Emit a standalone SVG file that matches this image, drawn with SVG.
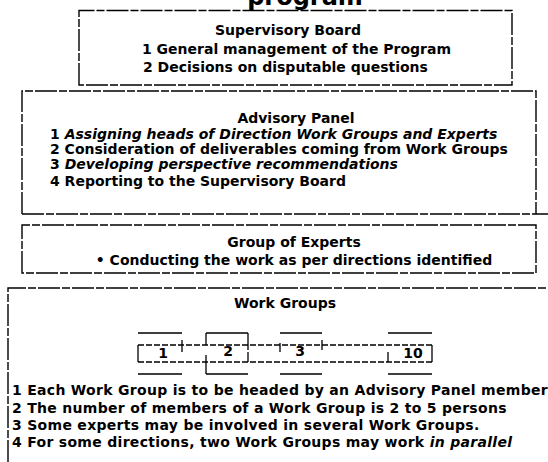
<svg xmlns="http://www.w3.org/2000/svg" width="548" height="462" viewBox="0 0 548 462">
<style>
.bx{fill:none;stroke:#000;stroke-width:1.4;stroke-dasharray:22 2 8 2}
.ln{fill:none;stroke:#000;stroke-width:1.3}
.dl{fill:none;stroke:#000;stroke-width:1.3;stroke-dasharray:6 2}
text{font-family:"DejaVu Sans","Liberation Sans",sans-serif;font-size:14px;font-weight:bold;fill:#000}
.h{text-anchor:middle}
.i{font-style:italic}
.n{letter-spacing:0.3px}
</style>
<rect width="548" height="462" fill="#fff"/>
<text x="305" y="5" class="h" style="font-size:24px">program</text>
<g id="supervisory-board">
<path class="bx" d="M79,85 V10.5 H512 V85 Z"/>
<text x="288" y="35" class="h">Supervisory Board</text>
<text x="142" y="54">1 General management of the Program</text>
<text x="143" y="72">2  Decisions on disputable questions</text>
</g>
<g id="advisory-panel">
<path class="bx" d="M22,214 V91 H536 V214"/>
<path class="bx" d="M22,214 H548"/>
<text x="296" y="123" class="h">Advisory Panel</text>
<text x="50" y="139">1 <tspan class="i">Assigning heads of Direction Work Groups and Experts</tspan></text>
<text x="50" y="154">2 Consideration of deliverables coming from Work Groups</text>
<text x="50" y="169">3 <tspan class="i">Developing perspective recommendations</tspan></text>
<text x="50" y="185.5">4 Reporting to the Supervisory Board</text>
</g>
<g id="group-of-experts">
<path class="bx" d="M22,273 V225 H536 V273 Z"/>
<text x="294" y="247" class="h">Group of Experts</text>
<text x="294" y="265" class="h">• Conducting the work as per directions identified</text>
</g>
<g id="work-groups">
<path class="bx" d="M8,462 V288 H548"/>
<text x="285" y="308" class="h">Work Groups</text>
<text x="12" y="395" class="n">1 Each Work Group is to be headed by an Advisory Panel member</text>
<text x="12" y="413" class="n">2 The number of members of a Work Group is 2 to 5 persons</text>
<text x="12" y="430" class="n">3 Some experts may be involved in several Work Groups.</text>
<text x="12" y="447" class="n">4 For some directions, two Work Groups may work <tspan class="i">in parallel</tspan></text>
</g>
<g id="wg-boxes">
<path class="ln" d="M138,333 H182 M206,333 H248 M280,333 H322 M388,333 H432"/>
<path class="ln" d="M138,374 H182 M206,374 H248 M280,374 H322 M388,374 H432"/>
<path class="dl" d="M138,345 H432 M138,362 H432"/>
<path class="ln" d="M138,345 V362 M432,345 V362"/>
<path class="ln" d="M206,333 V345 M248,333 V350 M206,355 V374 M248,352 V362"/>
<path class="ln" d="M182,340 V352 M280,343 V352 M322,340 V350 M388,352 V362"/>
</g>
<g id="wg-labels">
<text x="163" y="358" class="h">1</text>
<text x="228" y="356" class="h">2</text>
<text x="300" y="356" class="h">3</text>
<text x="413" y="358" class="h">10</text>
</g>
</svg>
